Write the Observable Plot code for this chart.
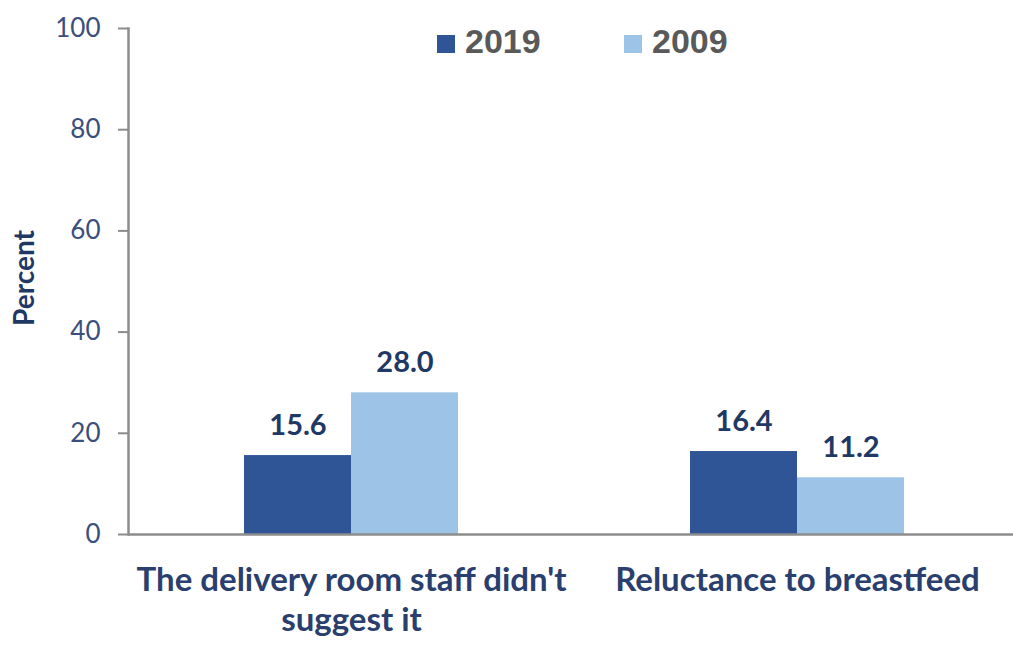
<!DOCTYPE html>
<html>
<head>
<meta charset="utf-8">
<script src="https://cdn.jsdelivr.net/npm/d3@7"></script>
<script src="https://cdn.jsdelivr.net/npm/@observablehq/plot@0.6"></script>
<style>
  body { margin: 0; background: #fff; }
  #wrap { position: relative; width: 1013px; height: 645px; }
  .leg { position: absolute; font-family: "Liberation Sans", Arial, sans-serif; font-weight: bold; font-size: 34px; color: #595959; line-height: 1; }
  .sw { position: absolute; width: 18px; height: 18px; }
  #ytitle { position: absolute; left: 23px; top: 278px; transform: translate(-50%, -50%) rotate(-90deg); font-family: Lato, sans-serif; font-weight: bold; font-size: 28px; color: #1f3864; white-space: nowrap; }
</style>
</head>
<body>
<div id="wrap"></div>
<script>
const categories = ["The delivery room staff didn't\nsuggest it", "Reluctance to breastfeed"];
const years = ["2019", "2009"];
const values2019 = [15.6, 16.4];
const values2009 = [28.0, 11.2];
const yTicks = [0, 20, 40, 60, 80, 100];
const yearColors = ["#2F5597", "#9DC3E6"];

const data = [];
categories.forEach((c, i) => {
  data.push({category: c, year: years[0], value: values2019[i]});
  data.push({category: c, year: years[1], value: values2009[i]});
});

const gray = "#8c8c8c";
const navy = "#1f3864";

const chart = Plot.plot({
  width: 1013,
  height: 645,
  marginLeft: 128,
  marginRight: -7,
  marginTop: 28,
  marginBottom: 111,
  style: {fontFamily: "Lato, sans-serif", background: "#fff"},
  fx: {domain: categories, padding: 0, label: null},
  x: {domain: years, paddingInner: 0, paddingOuter: 1.08, axis: null},
  y: {domain: [0, 100], label: null},
  color: {domain: years, range: yearColors},
  marks: [
    Plot.barY(data, {fx: "category", x: "year", y: "value", fill: "year"}),
    Plot.frame({anchor: "left", facetAnchor: "left", stroke: gray, strokeWidth: 2.5}),
    Plot.ruleY([0], {stroke: gray, strokeWidth: 2.5}),
    Plot.axisY({ticks: yTicks, tickSize: 10, tickPadding: 18, stroke: gray, strokeWidth: 2, fill: "#3b4f7d", fontSize: 26, label: null}),
    Plot.axisFx({anchor: "bottom", tickSize: 0, tickPadding: 27, fontSize: 33, fontWeight: "bold", fill: "#2a3f6e", lineHeight: 1.24, label: null}),
    Plot.text(data, {fx: "category", x: "year", y: "value", text: d => d.value.toFixed(1), lineAnchor: "bottom", dy: -21, fontSize: 29, fontWeight: "bold", fill: navy})
  ]
});

const wrap = document.getElementById("wrap");
wrap.appendChild(chart);

function legendItem(label, color, sx, tx) {
  const sw = document.createElement("div");
  sw.className = "sw";
  sw.style.left = sx + "px";
  sw.style.top = "35px";
  sw.style.background = color;
  wrap.appendChild(sw);
  const t = document.createElement("div");
  t.className = "leg";
  t.style.left = tx + "px";
  t.style.top = "24px";
  t.textContent = label;
  wrap.appendChild(t);
}
legendItem(years[0], yearColors[0], 437, 465);
legendItem(years[1], yearColors[1], 624, 652);

const yt = document.createElement("div");
yt.id = "ytitle";
yt.textContent = "Percent";
wrap.appendChild(yt);
</script>
</body>
</html>
